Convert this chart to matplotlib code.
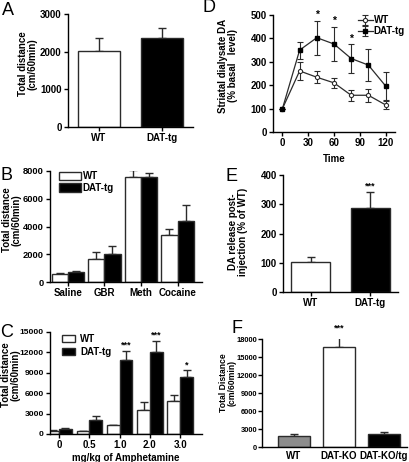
import matplotlib.pyplot as plt
import numpy as np

plt.rcParams['font.family'] = ['Liberation Sans', 'DejaVu Sans']
plt.rcParams['font.weight'] = 'bold'
plt.rcParams['axes.labelweight'] = 'bold'
plt.rcParams['font.size'] = 7

# A
a_groups = ['WT', 'DAT-tg']
a_vals = [2030, 2350]
a_err = [330, 270]

# B
b_groups = ['Saline', 'GBR', 'Meth', 'Cocaine']
b_wt = [560, 1640, 7540, 3400]
b_wt_err = [70, 500, 550, 450]
b_tg = [720, 2000, 7540, 4400]
b_tg_err = [80, 600, 350, 1170]

# C
c_doses = ['0', '0.5', '1.0', '2.0', '3.0']
c_wt = [490, 440, 1280, 3600, 4870]
c_wt_err = [80, 60, 100, 1100, 830]
c_tg = [730, 2000, 10930, 12000, 8320]
c_tg_err = [80, 600, 1300, 1700, 1080]
c_stars = ['', '', '***', '***', '*']

# D
d_time = [0, 20, 40, 60, 80, 100, 120]
d_wt = [100, 261, 234, 210, 157, 157, 116]
d_wt_err = [0, 40, 25, 20, 24, 28, 18]
d_tg = [100, 350, 403, 376, 314, 286, 197]
d_tg_err = [0, 36, 73, 74, 61, 70, 60]
d_stars = ['', '', '*', '*', '*', '', '']

# E
e_groups = ['WT', 'DAT-tg']
e_vals = [103, 288]
e_err = [17, 55]

# F
f_groups = ['WT', 'DAT-KO', 'DAT-KO/tg']
f_vals = [1890, 16610, 2220]
f_err = [280, 2200, 220]
f_colors = ['#8c8c8c', 'white', 'black']

W, H = 409, 462
fig = plt.figure(figsize=(W / 100, H / 100), dpi=100)

EDGE = '#2b2b2b'
FS = 7


def make_ax(left, right, top, bottom):
    ax = fig.add_axes([left / W, 1 - bottom / H, (right - left) / W, (bottom - top) / H])
    for s in ['top', 'right']:
        ax.spines[s].set_visible(False)
    for s in ['left', 'bottom']:
        ax.spines[s].set_linewidth(1.0)
    ax.tick_params(length=3, width=1, pad=1.5, labelsize=FS)
    ax.box_px = (left, right, top, bottom)
    return ax


def ylabel_at(ax, text, right_px, cy_px, fs=FS):
    left, right, top, bottom = ax.box_px
    ax.set_ylabel(text, fontsize=fs, fontweight='bold', linespacing=1.05)
    ax.yaxis.set_label_coords((right_px - left) / (right - left),
                              (bottom - cy_px) / (bottom - top))


def bold_ticks(ax):
    for lab in ax.get_xticklabels() + ax.get_yticklabels():
        lab.set_fontweight('bold')


def up_err(ax, x, y, e):
    ax.errorbar(x, y, yerr=[np.zeros(len(e)), e], fmt='none', ecolor=EDGE,
                elinewidth=1.0, capsize=3.2, capthick=1.0, zorder=1)


# Panel A
ax = make_ax(68, 193, 14, 127)
x = np.arange(len(a_groups))
ax.bar(x, a_vals, width=0.67, color=['white', 'black'], edgecolor=EDGE, linewidth=1.0, zorder=2)
up_err(ax, x, a_vals, a_err)
ax.set_xlim(-0.49, 1.49)
ax.set_ylim(0, 3000)
ax.set_yticks([0, 1000, 2000, 3000])
ax.set_xticks(x)
ax.set_xticklabels(a_groups)
ylabel_at(ax, 'Total distance\n(cm/60min)', 38, 64)
bold_ticks(ax)
fig.text(2 / W, 1 - 15 / H, 'A', fontsize=13, fontweight='normal')

# Panel B
ax = make_ax(50, 202, 171, 282)
x = np.arange(len(b_groups))
bw = 0.44
ax.bar(x - bw / 2, b_wt, width=bw, color='white', edgecolor=EDGE, linewidth=1.0, zorder=2, label='WT')
ax.bar(x + bw / 2, b_tg, width=bw, color='black', edgecolor=EDGE, linewidth=1.0, zorder=2, label='DAT-tg')
up_err(ax, x - bw / 2, b_wt, b_wt_err)
up_err(ax, x + bw / 2, b_tg, b_tg_err)
ax.set_xlim(-0.49, 3.67)
ax.set_ylim(0, 8000)
ax.set_yticks([0, 2000, 4000, 6000, 8000])
ax.set_xticks(x)
ax.set_xticklabels(b_groups)
ax.tick_params(axis='y', labelsize=6.7)
ylabel_at(ax, 'Total distance\n(cm/60min)', 22, 220)
bold_ticks(ax)
ax.legend(loc='upper left', bbox_to_anchor=(0.03, 1.04), frameon=False, fontsize=FS,
          handlelength=2.2, handleheight=0.9, handletextpad=0.2, labelspacing=0.15, borderpad=0)
fig.text(0 / W, 1 - 180 / H, 'B', fontsize=13, fontweight='normal')

# Panel C
ax = make_ax(50, 202, 332, 434)
x = np.arange(len(c_doses))
bw = 0.42
ax.bar(x - bw / 2, c_wt, width=bw, color='white', edgecolor=EDGE, linewidth=1.0, zorder=2, label='WT')
ax.bar(x + bw / 2, c_tg, width=bw, color='black', edgecolor=EDGE, linewidth=1.0, zorder=2, label='DAT-tg')
up_err(ax, x - bw / 2, c_wt, c_wt_err)
up_err(ax, x + bw / 2, c_tg, c_tg_err)
for xi, v, e, s in zip(x, c_tg, c_tg_err, c_stars):
    if s:
        ax.text(xi + bw / 2, v + e + 150, s, ha='center', va='bottom', fontsize=6.5)
ax.set_xlim(-0.30, 4.72)
ax.set_ylim(0, 15000)
ax.set_yticks([0, 3000, 6000, 9000, 12000, 15000])
ax.set_xticks(x)
ax.set_xticklabels(c_doses)
ax.tick_params(axis='y', labelsize=6.1)
ax.set_xlabel('mg/kg of Amphetamine', fontsize=FS, labelpad=2)
ylabel_at(ax, 'Total distance\n(cm/60min)', 21, 375)
bold_ticks(ax)
ax.legend(loc='upper left', bbox_to_anchor=(0.05, 1.03), frameon=False, fontsize=FS,
          handlelength=1.3, handleheight=0.7, handletextpad=0.5, labelspacing=0.3, borderpad=0)
fig.text(0 / W, 1 - 337 / H, 'C', fontsize=13, fontweight='normal')

# Panel D
ax = make_ax(273, 395, 15, 132)
ax.errorbar(d_time, d_wt, yerr=d_wt_err, color=EDGE, marker='o', markersize=3,
            markerfacecolor='white', markeredgecolor=EDGE, markeredgewidth=0.8,
            linewidth=0.9, elinewidth=0.8, capsize=2.5, capthick=0.8, label='WT')
ax.errorbar(d_time, d_tg, yerr=d_tg_err, color=EDGE, marker='s', markersize=2.2,
            markerfacecolor='black', markeredgecolor='black',
            linewidth=0.9, elinewidth=0.8, capsize=2.5, capthick=0.8, label='DAT-tg')
for t, v, e, s in zip(d_time, d_tg, d_tg_err, d_stars):
    if s:
        ax.text(t, v + e + 3, s, ha='center', va='bottom', fontsize=7.5)
ax.set_xlim(-11, 131)
ax.set_ylim(0, 500)
ax.set_xticks([0, 30, 60, 90, 120])
ax.set_yticks([0, 100, 200, 300, 400, 500])
ax.set_xlabel('Time', fontsize=FS, labelpad=4)
ylabel_at(ax, 'Striatal dialysate DA\n(% basal   level)', 238, 66)
bold_ticks(ax)
ax.legend(loc='upper right', bbox_to_anchor=(1.12, 1.04), frameon=False, fontsize=FS,
          handlelength=1.5, handletextpad=0.1, labelspacing=0.1, borderpad=0)
fig.text(203 / W, 1 - 12 / H, 'D', fontsize=13, fontweight='normal')

# Panel E
ax = make_ax(283, 398, 175, 292)
x = np.arange(len(e_groups))
ax.bar(x, e_vals, width=0.66, color=['white', 'black'], edgecolor=EDGE, linewidth=1.0, zorder=2)
up_err(ax, x, e_vals, e_err)
ax.text(1, e_vals[1] + e_err[1] + 3, '***', ha='center', va='bottom', fontsize=6.5)
ax.set_xlim(-0.47, 1.47)
ax.set_ylim(0, 400)
ax.set_yticks([0, 100, 200, 300, 400])
ax.set_xticks(x)
ax.set_xticklabels(e_groups)
ylabel_at(ax, 'DA release post-\ninjection (% of WT)', 248, 232)
bold_ticks(ax)
fig.text(225 / W, 1 - 181 / H, 'E', fontsize=13, fontweight='normal')

# Panel F
ax = make_ax(262, 407, 339, 447)
x = np.arange(len(f_groups))
ax.bar(x, f_vals, width=0.69, color=f_colors, edgecolor=EDGE, linewidth=1.0, zorder=2)
up_err(ax, x, f_vals, f_err)
ax.text(1, f_vals[1] + f_err[1] + 250, '***', ha='center', va='bottom', fontsize=6.5)
ax.set_xlim(-0.71, 2.51)
ax.set_ylim(0, 18000)
ax.set_yticks([0, 3000, 6000, 9000, 12000, 15000, 18000])
ax.set_xticks(x)
ax.set_xticklabels(f_groups)
ax.tick_params(axis='x', length=0, pad=3)
ax.tick_params(axis='y', labelsize=5.4, length=2.7, pad=0.8)
ylabel_at(ax, 'Total Distance\n(cm/60min)', 237, 383, fs=6.2)
bold_ticks(ax)
fig.text(232 / W, 1 - 333 / H, 'F', fontsize=13, fontweight='normal')

fig.savefig('out.png', dpi=100)
